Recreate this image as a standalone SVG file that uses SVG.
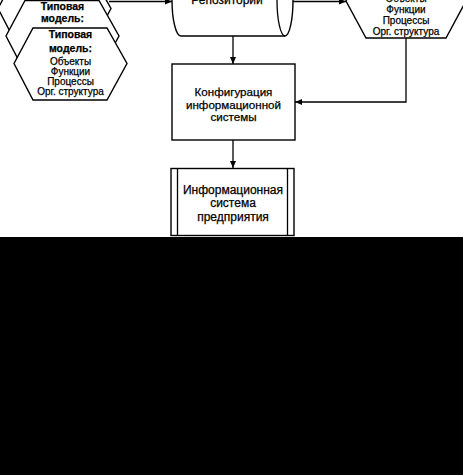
<svg xmlns="http://www.w3.org/2000/svg" width="463" height="475" viewBox="0 0 463 475">
<style>
.shape{fill:#fff;stroke:#000;stroke-width:1.4}
.line{fill:none;stroke:#000;stroke-width:1.3}
.t{font-family:"Liberation Sans",Arial,sans-serif;font-size:12px;text-anchor:middle;fill:#000;stroke:#000;stroke-width:0.25}
.m{font-size:11.6px}
.s{font-family:"Liberation Sans",Arial,sans-serif;font-size:10px;text-anchor:middle;fill:#000;stroke:#000;stroke-width:0.25}
.b{font-weight:bold;font-size:10.5px}
</style>
<defs>
<marker id="ah" markerUnits="userSpaceOnUse" markerWidth="8" markerHeight="6" refX="7" refY="3" orient="auto">
<path d="M0,0 L7,3 L0,6 Z" fill="#000"/>
</marker>
</defs>
<rect x="0" y="0" width="463" height="475" fill="#fff"/>
<g id="connectors">
<line class="line" x1="109" y1="1.5" x2="172" y2="1.5" marker-end="url(#ah)"/>
<line class="line" x1="293" y1="1.5" x2="346" y2="1.5" marker-end="url(#ah)"/>
<line class="line" x1="233" y1="36" x2="233" y2="64" marker-end="url(#ah)"/>
<polyline class="line" points="406,38 406,102 295,102" marker-end="url(#ah)"/>
<line class="line" x1="233" y1="140" x2="233" y2="168" marker-end="url(#ah)"/>
</g>
<g id="typical-model-back">
<polygon class="shape" points="17,-27 91,-27 111,8.5 91,45 17,45 -2,8.5"/>
</g>
<g id="typical-model-middle">
<polygon class="shape" points="25,0.5 99,0.5 119,36 99,72.5 25,72.5 6,36"/>
<text class="s b" x="62.5" y="10">Типовая</text>
<text class="s b" x="62.5" y="21.5">модель:</text>
</g>
<g id="typical-model-front">
<polygon class="shape" points="33,28 107,28 127,63.5 107,100 33,100 14,63.5"/>
<text class="s b" x="70.5" y="37.5">Типовая</text>
<text class="s b" x="70.5" y="51.5">модель:</text>
<text class="s" x="70.5" y="64.5">Объекты</text>
<text class="s" x="70.5" y="74.5">Функции</text>
<text class="s" x="70.5" y="84.5">Процессы</text>
<text class="s" x="70.5" y="94.5">Орг. структура</text>
</g>
<g id="repository">
<path class="shape" d="M181,-36 L285,-36 A8,36 0 0 1 285,36 L181,36 A9,36 0 0 1 181,-36 Z"/>
<path class="line" d="M285,-36 A8,36 0 0 0 285,36"/>
<text class="t" x="227" y="3.5">Репозиторий</text>
</g>
<g id="enterprise-model">
<polygon class="shape" points="366,-36 446,-36 466,1 446,38 366,38 346,1"/>
<text class="s" x="406" y="1.5">Объекты</text>
<text class="s" x="406" y="12.5">Функции</text>
<text class="s" x="406" y="23.5">Процессы</text>
<text class="s" x="406" y="34.5">Орг. структура</text>
</g>
<g id="configuration">
<rect class="shape" x="172" y="64" width="123" height="76"/>
<text class="t m" x="233.5" y="96">Конфигурация</text>
<text class="t m" x="233.5" y="108.5">информационной</text>
<text class="t m" x="233.5" y="121">системы</text>
</g>
<g id="enterprise-is">
<rect class="shape" x="171" y="168.5" width="123" height="67"/>
<line class="line" x1="177.5" y1="168.5" x2="177.5" y2="235.5"/>
<line class="line" x1="287.5" y1="168.5" x2="287.5" y2="235.5"/>
<text class="t" x="233" y="193.5">Информационная</text>
<text class="t" x="233" y="207">система</text>
<text class="t" x="233" y="220.5">предприятия</text>
</g>
<rect x="0" y="237" width="463" height="238" fill="#000"/>
</svg>
